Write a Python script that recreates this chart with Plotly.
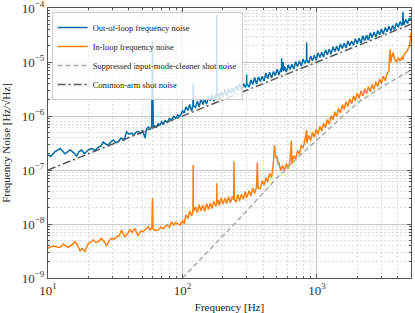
import math
import plotly.graph_objects as go

# ---------------- data ----------------
freq_ool = [10, 10.5, 11.3, 12.3, 13.4, 14.6, 15.5, 16.3, 17.0, 17.8, 18.6, 19.4, 20.2, 21.1, 22.4,
            23.7, 24.8, 25.8, 27.0, 28.1, 29.3, 30.6, 32.0, 33.3, 35.0, 36.7, 38.5, 40.0, 41.8, 43.5,
            45.0, 46.9, 48.5, 50.5, 52.7, 54.0, 55.7, 57.5, 59.0, 59.8, 60.6, 62, 64, 66, 68, 70, 72,
            74, 77, 80, 83, 86, 89, 92, 95, 98,
            100, 103, 106, 110, 113, 117, 119.5, 120, 120.5, 125, 129, 133, 137, 142, 146, 151, 156,
            161, 166, 171, 177, 179.5, 180, 180.5, 184, 188, 194, 200, 207, 213, 220, 227, 234, 242,
            250, 258, 266, 275, 284, 293, 299.5, 300, 300.5, 313, 323, 333, 344, 355, 367, 379, 391,
            404, 417, 430, 444, 459, 474, 489, 505, 521, 538, 545, 546, 548, 555, 560, 565, 573, 592,
            611, 631, 651, 672, 694, 716, 740, 764, 788, 814, 836, 838, 840, 868, 896, 925, 955, 986,
            1018, 1051, 1085, 1120, 1157, 1194, 1233, 1273, 1314, 1357, 1401, 1446, 1493, 1542, 1592,
            1643, 1697, 1752, 1809, 1867, 1928, 1991, 2055, 2122, 2191, 2262, 2335, 2411, 2489, 2570,
            2653, 2739, 2828, 2920, 3015, 3112, 3213, 3318, 3425, 3536, 3651, 3769, 3892, 4018, 4148,
            4283, 4340, 4360, 4380, 4422, 4565, 4713, 4866, 5000]
noise_ool = [1.9e-7, 1.8e-7, 2.2e-7, 2.5e-7, 2.0e-7, 2.35e-7, 2.1e-7, 1.8e-7, 2.2e-7, 2.35e-7, 2.0e-7,
             2.2e-7, 2.4e-7, 2.5e-7, 2.3e-7, 2.65e-7, 2.8e-7, 3.3e-7, 3.0e-7, 2.9e-7, 3.3e-7, 3.6e-7,
             3.2e-7, 3.4e-7, 3.9e-7, 3.6e-7, 5.1e-7, 4.6e-7, 4.8e-7, 4.4e-7, 5.0e-7, 5.2e-7, 4.7e-7,
             5.4e-7, 3.9e-7, 5.8e-7, 6.3e-7, 5.6e-7, 6.5e-7, 2.5e-5, 6.0e-7, 6.6e-7, 6.2e-7, 7.2e-7,
             6.8e-7, 7.8e-7, 7.0e-7, 8.2e-7, 7.6e-7, 9.0e-7, 8.5e-7, 9.8e-7, 9.0e-7, 1.05e-6, 9.8e-7,
             1.12e-6,
             1.25e-6, 1.13e-6, 1.48e-6, 1.27e-6, 1.64e-6, 1.23e-6, 1.55e-6, 4.0e-6, 1.57e-6, 1.44e-6,
             1.87e-6, 1.46e-6, 2.06e-6, 1.63e-6, 2.04e-6, 1.66e-6, 2.26e-6, 1.93e-6, 2.49e-6, 1.88e-6,
             2.48e-6, 2.15e-6, 7.4e-5, 2.35e-6, 2.67e-6, 2.07e-6, 2.81e-6, 2.30e-6, 3.11e-6, 2.34e-6,
             3.19e-6, 2.61e-6, 3.28e-6, 2.66e-6, 3.63e-6, 2.97e-6, 3.99e-6, 3.03e-6, 3.98e-6, 3.37e-6,
             3.89e-6, 5.8e-6, 3.91e-6, 3.44e-6, 4.68e-6, 3.83e-6, 5.16e-6, 3.91e-6, 5.32e-6, 4.36e-6,
             5.47e-6, 4.44e-6, 6.26e-6, 4.95e-6, 6.44e-6, 5.05e-6, 6.64e-6, 5.62e-6, 7.32e-6, 5.73e-6,
             7.53e-6, 6.54e-6, 1.17e-5, 7.12e-6, 8.33e-6, 1.0e-5, 6.78e-6, 8.31e-6, 6.51e-6, 8.86e-6,
             7.26e-6, 9.11e-6, 7.39e-6, 1.01e-5, 8.23e-6, 1.04e-5, 8.40e-6, 1.14e-5, 9.36e-6, 1.09e-5,
             2.3e-5, 1.09e-5, 9.55e-6, 1.30e-5, 1.06e-5, 1.34e-5, 1.08e-5, 1.48e-5, 1.21e-5, 1.52e-5,
             1.23e-5, 1.68e-5, 1.37e-5, 1.73e-5, 1.40e-5, 1.91e-5, 1.56e-5, 1.96e-5, 1.59e-5, 2.16e-5,
             1.77e-5, 2.23e-5, 1.81e-5, 2.46e-5, 2.01e-5, 2.44e-5, 2.05e-5, 2.70e-5, 2.19e-5, 2.77e-5,
             2.23e-5, 3.07e-5, 2.49e-5, 3.15e-5, 2.53e-5, 3.48e-5, 2.83e-5, 3.58e-5, 2.88e-5, 3.82e-5,
             3.21e-5, 4.07e-5, 3.27e-5, 4.34e-5, 3.65e-5, 4.62e-5, 3.71e-5, 4.75e-5, 3.96e-5, 5.25e-5,
             4.42e-5, 5.60e-5, 4.71e-5, 5.64e-5, 8.5e-5, 5.69e-5, 4.86e-5, 6.16e-5, 5.18e-5, 6.57e-5,
             5.75e-5]

freq_il = [10, 10.5, 11, 11.6, 12.3, 12.7, 13, 13.6, 14.2, 15, 15.9, 16.6, 17.3, 18, 18.8, 19.9,
           20.8, 21.7, 22.6, 23.6, 25, 26, 27.3, 28.5, 29.7, 31, 32.4, 33.8, 35.3, 36.3, 37.3, 39,
           40.7, 42.3, 44.2, 45.5, 46.8, 49, 51, 53, 55.6, 57.5, 59.2, 59.8, 60.5, 63, 66, 69, 72,
           74, 77, 80, 83, 86, 89, 93, 96,
           100, 103, 106, 110, 113, 117, 119.5, 120, 120.5, 125, 129, 133, 137, 142, 146, 151, 156,
           161, 166, 171, 177, 179.5, 180, 180.5, 184, 188, 194, 200, 207, 213, 220, 227, 234, 240,
           241.5, 243, 250, 258, 266, 275, 284, 293, 300, 313, 323, 333, 344, 355, 360, 365, 379,
           391, 404, 417, 430, 444, 459, 470, 478, 483, 489, 497, 505, 515, 521, 538, 555, 573, 592,
           611, 631, 645, 651, 672, 694, 716, 740, 764, 788, 814, 838, 841, 868, 896, 925, 955, 986,
           1018, 1051, 1085, 1120, 1157, 1194, 1233, 1273, 1314, 1357, 1401, 1446, 1493, 1542, 1592,
           1643, 1697, 1752, 1809, 1867, 1928, 1991, 2055, 2122, 2191, 2262, 2335, 2411, 2489, 2570,
           2653, 2739, 2828, 2920, 3015, 3112, 3213, 3318, 3425, 3460, 3500, 3536, 3600, 3680, 3769,
           3892, 4018, 4148, 4283, 4360, 4422, 4565, 4713, 4866, 4950, 5000]
noise_il = [3.55e-9, 3.8e-9, 3.9e-9, 3.75e-9, 3.7e-9, 3.9e-9, 4.3e-9, 3.9e-9, 3.7e-9, 4.1e-9, 4.7e-9,
            4.0e-9, 3.2e-9, 3.5e-9, 3.1e-9, 4.3e-9, 4.6e-9, 5.1e-9, 4.6e-9, 4.7e-9, 5.4e-9, 4.8e-9,
            4.0e-9, 4.9e-9, 5.4e-9, 5.2e-9, 5.8e-9, 6.0e-9, 7.7e-9, 6.5e-9, 5.8e-9, 6.6e-9, 7.9e-9,
            7.0e-9, 8.3e-9, 7.0e-9, 6.2e-9, 7.4e-9, 7.2e-9, 8.0e-9, 8.9e-9, 7.8e-9, 8.5e-9, 3.0e-8,
            8.0e-9, 7.6e-9, 7.7e-9, 8.8e-9, 8.2e-9, 8.9e-9, 9.6e-9, 8.7e-9, 1.1e-8, 9.5e-9, 1.08e-8,
            1.0e-8, 9.6e-9,
            1.15e-8, 1.02e-8, 1.47e-8, 1.26e-8, 1.74e-8, 1.41e-8, 1.7e-8, 1.24e-7, 1.7e-8, 2.07e-8,
            1.63e-8, 2.28e-8, 1.76e-8, 2.24e-8, 1.72e-8, 2.4e-8, 1.85e-8, 2.42e-8, 1.94e-8, 2.65e-8,
            2.12e-8, 2.4e-8, 5.7e-8, 2.4e-8, 2.82e-8, 2.2e-8, 3.06e-8, 2.34e-8, 3.05e-8, 2.38e-8,
            3.21e-8, 2.48e-8, 3.22e-8, 2.8e-8, 1.43e-7, 2.85e-8, 2.55e-8, 3.54e-8, 2.7e-8, 3.57e-8,
            2.86e-8, 4.02e-8, 3.06e-8, 4.14e-8, 3.3e-8, 4.62e-8, 3.69e-8, 4.84e-8, 1.37e-7, 4.6e-8,
            4.49e-8, 6.37e-8, 5.22e-8, 7.25e-8, 5.98e-8, 8.64e-8, 7.2e-8, 1.1e-7, 1.8e-7, 2.9e-7,
            2.0e-7, 1.7e-7, 1.76e-7, 1.26e-7, 1.38e-7, 9.7e-8, 1.21e-7, 9.7e-8, 1.32e-7, 1.06e-7,
            1.5e-7, 3.5e-7, 1.3e-7, 1.84e-7, 1.58e-7, 2.3e-7, 1.94e-7, 2.88e-7, 2.55e-7, 3.63e-7,
            5.5e-7, 3.17e-7, 4.37e-7, 3.52e-7, 4.95e-7, 4.05e-7, 5.64e-7, 4.58e-7, 6.44e-7, 5.28e-7,
            7.36e-7, 6.07e-7, 8.63e-7, 7.13e-7, 1.01e-6, 8.45e-7, 1.2e-6, 9.86e-7, 1.38e-6, 1.14e-6,
            1.61e-6, 1.32e-6, 1.84e-6, 1.5e-6, 2.07e-6, 1.69e-6, 2.36e-6, 1.92e-6, 2.65e-6, 2.11e-6,
            2.9e-6, 2.33e-6, 3.2e-6, 2.57e-6, 3.51e-6, 2.82e-6, 3.85e-6, 3.12e-6, 4.31e-6, 3.48e-6,
            4.83e-6, 3.96e-6, 5.52e-6, 4.49e-6, 6.05e-6, 7.0e-6, 1.2e-5, 1.7e-5, 1.0e-5, 1.25e-5,
            1.5e-5, 1.15e-5, 1.0e-5, 1.2e-5, 1.05e-5, 1.25e-5, 1.1e-5, 1.35e-5, 1.5e-5, 1.65e-5,
            2.0e-5, 2.6e-5, 3.4e-5]

freq_imc = [100, 150, 200, 300, 500, 700, 1000, 1500, 2000, 3000, 4000, 5000]
noise_imc = [1.0e-9, 2.87e-9, 6.1e-9, 1.74e-8, 7.0e-8, 1.6e-7, 3.6e-7, 9.1e-7, 1.75e-6, 3.4e-6,
             5.2e-6, 7.1e-6]

freq_ca = [10, 5000]
noise_ca = [1.0e-7, 5.0e-5]

labels = ["Out-of-loop frequency noise", "In-loop frequency noise",
          "Suppressed input-mode-cleaner shot noise", "Common-arm shot noise"]

x_ticks = [10, 100, 1000]
x_ticktext = ["10<sup>1</sup>", "10<sup>2</sup>", "10<sup>3</sup>"]
y_ticks = [1e-9, 1e-8, 1e-7, 1e-6, 1e-5, 1e-4]
y_ticktext = ["10<sup>\u22129</sup>", "10<sup>\u22128</sup>", "10<sup>\u22127</sup>",
              "10<sup>\u22126</sup>", "10<sup>\u22125</sup>", "10<sup>\u22124</sup>"]

# ---------------- figure ----------------
x_minor = [m * 10 ** e for e in (1, 2) for m in range(2, 10)] + [2000, 3000, 4000, 5000]
y_minor = [m * 10.0 ** e for e in range(-9, -4) for m in range(2, 10)]

fig = go.Figure()
fig.add_trace(go.Scatter(x=freq_ool, y=noise_ool, mode="lines", name=labels[0],
                         line=dict(color="#006BA4", width=1.5, simplify=False)))
fig.add_trace(go.Scatter(x=freq_il, y=noise_il, mode="lines", name=labels[1],
                         line=dict(color="#FF800E", width=1.5, simplify=False)))
fig.add_trace(go.Scatter(x=freq_imc, y=noise_imc, mode="lines", name=labels[2],
                         line=dict(color="#ABABAB", width=1.5, dash="5px,3px")))
fig.add_trace(go.Scatter(x=freq_ca, y=noise_ca, mode="lines", name=labels[3],
                         line=dict(color="#595959", width=1.5, dash="8px,3px,2px,3px")))

serif = "Liberation Serif"
axis_common = dict(
    type="log", showline=True, linecolor="#555555", linewidth=1, mirror="allticks",
    ticks="inside", ticklen=4, tickwidth=0.8, tickcolor="#555555",
    showgrid=True, gridcolor="#c8c8c8", gridwidth=0.8, zeroline=False, automargin=False,
    ticklabeloverflow="allow",
    tickfont=dict(family=serif, size=13, color="#333333"),
)
minor_common = dict(tickmode="array", ticks="inside", ticklen=2, tickcolor="#555555",
                    showgrid=True, gridcolor="#dcdcdc", griddash="2px,2px", gridwidth=0.6)

fig.update_layout(
    width=415, height=313,
    margin=dict(l=48, r=4, t=8, b=35),
    paper_bgcolor="white", plot_bgcolor="white",
    font=dict(family=serif, color="#333333"),
    showlegend=True,
    legend=dict(x=0.01, y=0.985, xanchor="left", yanchor="top",
                bgcolor="rgba(255,255,255,0.8)", bordercolor="#cccccc", borderwidth=1,
                font=dict(family=serif, size=8.5, color="#222222"),
                tracegroupgap=0),
    xaxis=dict(**axis_common, range=[1, math.log10(5000)],
               tickmode="array", tickvals=x_ticks, ticktext=x_ticktext,
               minor=dict(**minor_common, tickvals=x_minor),
               title=dict(text="Frequency [Hz]", font=dict(family=serif, size=11, color="#222222"))),
    yaxis=dict(**axis_common, range=[-9, -3.9995],
               tickmode="array", tickvals=y_ticks, ticktext=y_ticktext,
               minor=dict(**minor_common, tickvals=y_minor),
               title=dict(text="Frequency Noise [Hz/\u221a<span style='text-decoration:overline'>Hz</span>]",
                          font=dict(family=serif, size=11, color="#222222"))),
)

fig.write_html("out.html", config={"displayModeBar": False},
               post_script="document.body.style.margin='0';")
